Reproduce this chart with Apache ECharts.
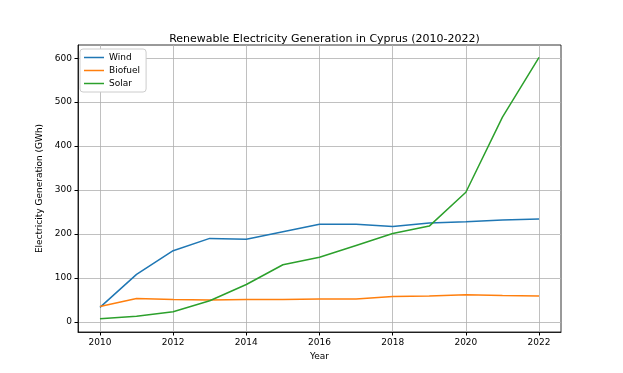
<!DOCTYPE html>
<html><head><meta charset="utf-8">
<script src="https://cdn.jsdelivr.net/npm/echarts@6/dist/echarts.min.js"></script>
<style>html,body{margin:0;padding:0;background:#fff}#c{width:623px;height:373px}</style>
</head><body><div id="c"></div>
<script>
const years = [2010,2011,2012,2013,2014,2015,2016,2017,2018,2019,2020,2021,2022];
const wind = [33,108,162,190,188,205,222,222,217,225,228,232,234];
const biofuel = [35,53,51,50,51,51,52,52,58,59,62,60,59];
const solar = [7,13,23,48,85,130,147,174,201,218,295,466,602];
const xTicks = [2010,2012,2014,2016,2018,2020,2022];
const yTicks = [0,100,200,300,400,500,600];
const font = 'DejaVu Sans';
function pairs(v){return years.map((y,i)=>[y,v[i]]);}
const chart = echarts.init(document.getElementById('c'));
const mk = (name, data, color) => ({name, type:'line', data:pairs(data), symbol:'none',
  lineStyle:{color, width:1.5}, itemStyle:{color}, z: 3});
chart.setOption({
  animation:false,
  textStyle:{fontFamily:font},
  title:{text:'Renewable Electricity Generation in Cyprus (2010-2022)', left:319.5, textAlign:'center', top:29,
    textStyle:{fontFamily:font, fontSize:11, fontWeight:'normal', color:'#000'}},
  legend:{orient:'vertical', left:80, top:49, padding:[4,6,4,4], itemGap:4, itemWidth:20, itemHeight:1.5,
    icon:'rect', backgroundColor:'#fff', borderColor:'#ccc', borderWidth:1, borderRadius:3,
    textStyle:{fontFamily:font, fontSize:9, color:'#000'}, data:['Wind','Biofuel','Solar']},
  grid:{left:78, right:62, top:45, bottom:41, show:true, borderColor:'#000', borderWidth:0.8},
  xAxis:{type:'value', min:2009.4, max:2022.6, name:'Year', nameLocation:'middle', nameGap:19,
    nameTextStyle:{fontFamily:font, fontSize:9, color:'#000'},
    axisLine:{show:true, onZero:false, lineStyle:{color:'#000', width:0.8}},
    axisTick:{show:true, length:3.5, customValues:xTicks, lineStyle:{color:'#000'}},
    axisLabel:{customValues:xTicks, fontFamily:font, fontSize:9, color:'#000', margin:6, formatter:v=>String(v)},
    splitLine:{show:true, lineStyle:{color:'#b0b0b0', width:0.8}}},
  yAxis:{type:'value', min:-23, max:630, name:'Electricity Generation (GWh)', nameLocation:'middle', nameGap:26,
    nameTextStyle:{fontFamily:font, fontSize:9, color:'#000'},
    axisLine:{show:true, lineStyle:{color:'#000', width:0.8}},
    axisTick:{show:true, length:3.5, customValues:yTicks, lineStyle:{color:'#000'}},
    axisLabel:{customValues:yTicks, fontFamily:font, fontSize:9, color:'#000', margin:6},
    splitLine:{show:true, lineStyle:{color:'#b0b0b0', width:0.8}}},
  series:[mk('Wind',wind,'#1f77b4'), mk('Biofuel',biofuel,'#ff7f0e'), mk('Solar',solar,'#2ca02c')]
});
</script></body></html>
